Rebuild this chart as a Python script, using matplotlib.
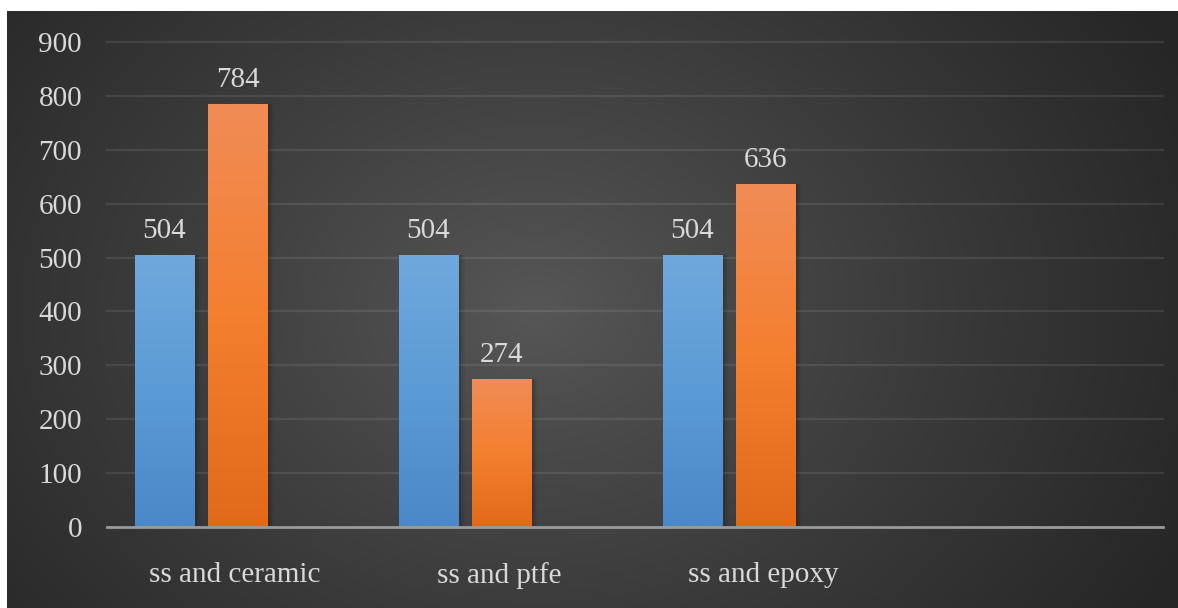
import numpy as np
import matplotlib
matplotlib.use("Agg")
import matplotlib.pyplot as plt
from matplotlib.colors import LinearSegmentedColormap

categories = ["ss and ceramic", "ss and ptfe", "ss and epoxy", ""]
series_a = [504, 504, 504]
series_b = [784, 274, 636]
yticks = [0, 100, 200, 300, 400, 500, 600, 700, 800, 900]

W, H = 1178, 608
fig = plt.figure(figsize=(W / 100, H / 100), dpi=100)
fig.patch.set_facecolor("white")

# background panel with radial gradient
bg = fig.add_axes([7 / W, 0, 1 - 7 / W, 1 - 11 / H])
bg.set_axis_off()
ny, nx = 300, 600
yy, xx = np.mgrid[0:ny, 0:nx]
cx, cy = nx * 0.45, ny * 0.5
r = np.sqrt(((xx - cx) / (nx * 0.62)) ** 2 + ((yy - cy) / (ny * 0.95)) ** 2)
r = np.clip(r, 0, 1)
inner, outer = 0x57 / 255, 0x26 / 255
val = inner + (outer - inner) * r ** 0.9
img = np.dstack([val, val, val])
bg.imshow(img, aspect="auto", extent=[0, 1, 0, 1], interpolation="bilinear")
bg.set_xlim(0, 1)
bg.set_ylim(0, 1)

ax = fig.add_axes([107 / W, (H - 527) / H, (1163 - 107) / W, (527 - 42) / H])
ax.patch.set_alpha(0)
for s in ["top", "right", "left"]:
    ax.spines[s].set_visible(False)
ax.spines["bottom"].set_color("#9a9a9a")
ax.spines["bottom"].set_linewidth(2)
ax.spines["bottom"].set_zorder(5)

FS = 21
ax.set_yticks(yticks)
ax.set_yticklabels([str(t) for t in yticks])
ax.set_xticks([i - 0.015 for i in range(len(categories))])
ax.set_xticklabels(categories)
ax.tick_params(axis="both", length=0, colors="#d9d9d9", labelsize=FS)
ax.tick_params(axis="y", pad=18)
ax.tick_params(axis="x", pad=25)
for lab in ax.get_xticklabels() + ax.get_yticklabels():
    lab.set_fontfamily("Liberation Serif")
    lab.set_color("#d9d9d9")
for t in yticks[1:]:
    ax.axhline(t, color="#ffffff", alpha=0.09, lw=1.6, zorder=1, clip_on=False)

blue_cmap = LinearSegmentedColormap.from_list("b", ["#4a88c7", "#5b9bd5", "#70a8dd"])
orange_cmap = LinearSegmentedColormap.from_list("o", ["#e2691a", "#f47f2f", "#f08c56"])

bw = 60 / 264
off = 36.5 / 264
shift = -38 / 264
grad = np.linspace(0, 1, 256).reshape(-1, 1)
for i in range(len(series_a)):
    c = i + shift
    for x0, v, cmap in [(c - off, series_a[i], blue_cmap), (c + off, series_b[i], orange_cmap)]:
        # soft shadow
        for k, a in enumerate([0.10, 0.07, 0.04]):
            ax.add_patch(plt.Rectangle((x0 - bw / 2 + (2 + 2 * k) / 264, 0), bw, v + 1,
                                       facecolor="black", alpha=a, lw=0, zorder=2))
        ax.imshow(grad, cmap=cmap, aspect="auto", origin="lower",
                  extent=[x0 - bw / 2, x0 + bw / 2, 0, v], zorder=3, interpolation="bilinear")
        ax.annotate(str(v), (x0, v), xytext=(0, 8), textcoords="offset points",
                    ha="center", va="bottom", color="#d9d9d9", fontsize=FS,
                    fontfamily="Liberation Serif")

ax.set_xlim(-0.5, 3.5)
ax.set_ylim(0, 900)

fig.savefig("out.png", dpi=100, facecolor=fig.get_facecolor())
